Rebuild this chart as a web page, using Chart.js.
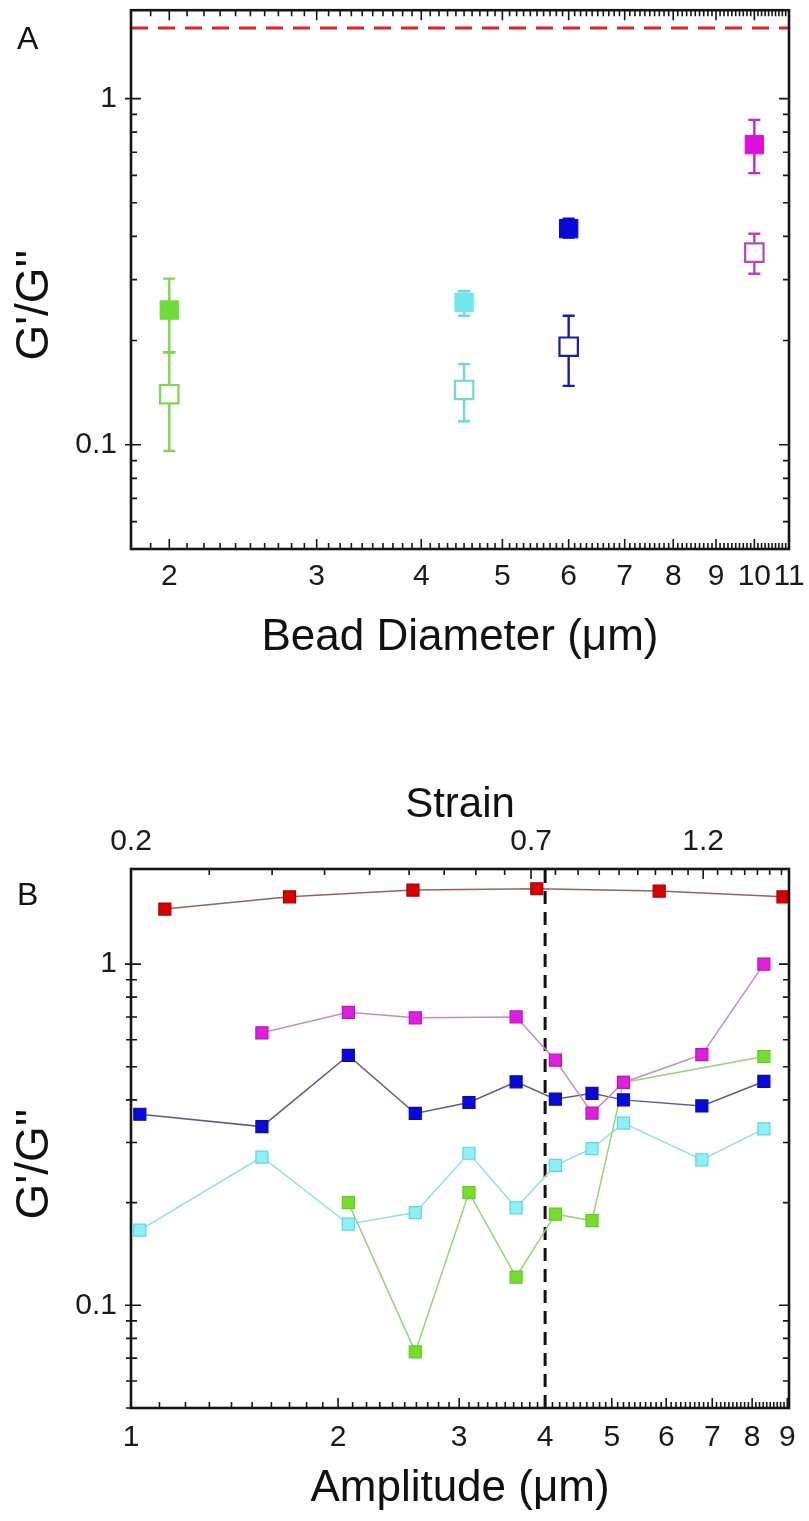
<!DOCTYPE html>
<html>
<head>
<meta charset="utf-8">
<script src="https://cdn.jsdelivr.net/npm/chart.js@4.4.1/dist/chart.umd.min.js"></script>
<style>
  html, body { margin: 0; padding: 0; background: #ffffff; }
  body { width: 809px; height: 1521px; position: relative; overflow: hidden; font-family: 'Liberation Sans', Arial, Helvetica, sans-serif; }
  .wrap { position: absolute; left: 0; }
  #wrapA { top: -5px; width: 809px; height: 705px; }
  #wrapB { top: 780px; width: 809px; height: 741px; }
  .panel { position: absolute; left: 17px; font-size: 32px; line-height: 32px; color: #111; z-index: 2; }
</style>
</head>
<body>
<div class="wrap" id="wrapA"><canvas id="chartA" width="809" height="705"></canvas></div>
<div class="wrap" id="wrapB"><canvas id="chartB" width="809" height="741"></canvas></div>
<div class="panel" style="top:22px;">A</div>
<div class="panel" style="top:878px;">B</div>
<script>
// ================= Panel A data =================
const beadDiameters = [2, 4.5, 6, 10];
const ratioSolid    = [0.245, 0.258, 0.421, 0.736];
const solidErrLow   = [0.185, 0.236, 0.397, 0.609];
const solidErrHigh  = [0.302, 0.278, 0.450, 0.868];
const ratioOpen     = [0.140, 0.144, 0.192, 0.359];
const openErrLow    = [0.096, 0.117, 0.148, 0.312];
const openErrHigh   = [0.185, 0.171, 0.236, 0.407];
const referenceRatio = 1.6;
const beadTickValues = [2, 3, 4, 5, 6, 7, 8, 9, 10, 11];
const beadTickLabels = ['2', '3', '4', '5', '6', '7', '8', '9', '10', '11'];
const ratioTickValues = [0.1, 1];
const ratioTickLabels = ['0.1', '1'];

// ================= Panel B data =================
const ampRed     = [1.12, 1.70, 2.57, 3.89, 5.86, 8.87];
const ratioRed   = [1.45, 1.575, 1.648, 1.663, 1.637, 1.575];
const ampMagenta   = [1.55, 2.07, 2.59, 3.63, 4.14, 4.68, 5.20, 6.76, 8.32];
const ratioMagenta = [0.629, 0.722, 0.696, 0.700, 0.523, 0.366, 0.450, 0.543, 1.0];
const ampBlue    = [1.03, 1.55, 2.07, 2.59, 3.10, 3.63, 4.14, 4.68, 5.20, 6.76, 8.32];
const ratioBlue  = [0.363, 0.334, 0.540, 0.365, 0.393, 0.452, 0.402, 0.418, 0.400, 0.384, 0.453];
const ampCyan    = [1.03, 1.55, 2.07, 2.59, 3.10, 3.63, 4.14, 4.68, 5.20, 6.76, 8.32];
const ratioCyan  = [0.166, 0.272, 0.173, 0.187, 0.279, 0.193, 0.257, 0.288, 0.342, 0.267, 0.329];
const ampGreen   = [2.07, 2.59, 3.10, 3.63, 4.14, 4.68, 5.20, 8.32];
const ratioGreen = [0.200, 0.073, 0.214, 0.121, 0.185, 0.177, 0.450, 0.536];
const criticalAmplitude = 4.0;
const ampTickValues = [1, 2, 3, 4, 5, 6, 7, 8, 9];
const ampTickLabels = ['1', '2', '3', '4', '5', '6', '7', '8', '9'];
const strainTickValues = [0.2, 0.7, 1.2];
const strainTickLabels = ['0.2', '0.7', '1.2'];

// ================= helpers =================
Chart.defaults.font.family = "'Liberation Sans', Arial, Helvetica, sans-serif";
Chart.defaults.color = '#1a1a1a';

function labelFor(values, labels, v) {
  const i = values.findIndex(t => Math.abs(t - v) < 1e-9);
  return i >= 0 ? labels[i] : '';
}
function pts(xs, ys) { return xs.map((x, i) => ({ x: x, y: ys[i] })); }
function stepList(from, to, step, skip) {
  const out = [];
  for (let k = 0; ; k++) {
    const v = +(from + k * step).toFixed(6);
    if (v > to + 1e-9) break;
    if (!skip.some(s => Math.abs(s - v) < 1e-6)) out.push(v);
  }
  return out;
}
function decadeMinors(lo, hi, majors) {
  const out = [];
  for (let d = -3; d <= 2; d++) {
    for (let m = 1; m <= 9; m++) {
      const v = +(m * Math.pow(10, d)).toFixed(8);
      if (v >= lo && v <= hi && !majors.some(s => Math.abs(s - v) < 1e-9)) out.push(v);
    }
  }
  return out;
}
function fixSize(prop, size) {
  return s => { s[prop] = size; s.paddingTop = 0; s.paddingBottom = 0; s.paddingLeft = 0; s.paddingRight = 0; };
}

// ---- plugin: frame box and inward ticks (positions from the chart's scales) ----
const frameTicks = {
  id: 'frameTicks',
  afterDatasetsDraw(chart, args, o) {
    if (!o || !o.enabled) return;
    const ctx = chart.ctx, a = chart.chartArea;
    const xb = chart.scales[o.bottomScale], xt = chart.scales[o.topScale], ys = chart.scales.y;
    const inRange = (s, v) => v >= s.min * 0.9999 && v <= s.max * 1.0001;
    ctx.save();
    ctx.strokeStyle = '#151515';
    ctx.lineWidth = 1.6;
    ctx.beginPath();
    const seg = (x1, y1, x2, y2) => { ctx.moveTo(x1, y1); ctx.lineTo(x2, y2); };
    const doX = (s, vals, len, edge, dir) => vals.forEach(v => {
      if (!inRange(s, v)) return;
      const p = s.getPixelForValue(v);
      seg(p, edge, p, edge + dir * len);
    });
    doX(xb, o.bottomMajor, o.majorLen, a.bottom, -1);
    doX(xb, o.bottomMinor, o.minorLen, a.bottom, -1);
    doX(xt, o.topMajor, o.majorLen, a.top, 1);
    doX(xt, o.topMinor, o.minorLen, a.top, 1);
    const doY = (vals, len, out) => vals.forEach(v => {
      if (!inRange(ys, v)) return;
      const p = ys.getPixelForValue(v);
      seg(a.left - out, p, a.left + len, p);
      seg(a.right, p, a.right - len, p);
    });
    doY(o.leftMajor, o.majorLen, o.majorOut);
    doY(o.leftMinor, o.minorLen, o.minorOut);
    ctx.stroke();
    ctx.lineWidth = 2.6;
    ctx.strokeRect(a.left, a.top, a.right - a.left, a.bottom - a.top);
    ctx.restore();
  }
};

// ---- plugin: error bars for panel A (positions from the chart's scales) ----
const errorBars = {
  id: 'errorBars',
  beforeDatasetsDraw(chart, args, o) {
    if (!o || !o.groups) return;
    const ctx = chart.ctx, xs = chart.scales.x, ys = chart.scales.y;
    ctx.save();
    ctx.lineWidth = o.lineWidth;
    o.groups.forEach(g => {
      g.x.forEach((xv, i) => {
        const px = xs.getPixelForValue(xv);
        const pLo = ys.getPixelForValue(g.lo[i]);
        const pHi = ys.getPixelForValue(g.hi[i]);
        ctx.strokeStyle = g.colors[i];
        ctx.beginPath();
        ctx.moveTo(px, pLo); ctx.lineTo(px, pHi);
        ctx.moveTo(px - o.cap, pLo); ctx.lineTo(px + o.cap, pLo);
        ctx.moveTo(px - o.cap, pHi); ctx.lineTo(px + o.cap, pHi);
        ctx.stroke();
      });
    });
    ctx.restore();
  }
};

// ================= Panel A chart =================
const solidColors = ['#70dc3c', '#72e6ea', '#0808d8', '#dc10dc'];
const openColors  = ['#7ad84c', '#6fd8d8', '#1c1ca6', '#b246c4'];
const errColorsSolid = ['#7ad84c', '#6fd8d8', '#0808d8', '#cc22cc'];
const errColorsOpen  = ['#7ad84c', '#6fd8d8', '#1c1ca6', '#b246c4'];

new Chart(document.getElementById('chartA'), {
  type: 'scatter',
  data: {
    datasets: [
      {
        type: 'line',
        data: [{ x: 1.8, y: referenceRatio }, { x: 11, y: referenceRatio }],
        borderColor: '#e02222', borderWidth: 3, borderDash: [17, 10],
        pointRadius: 0, fill: false, order: 5
      },
      {
        data: pts(beadDiameters, ratioOpen),
        pointStyle: 'rect', pointRadius: 13,
        pointBackgroundColor: '#ffffff', pointBorderColor: openColors, pointBorderWidth: 2.2,
        order: 3
      },
      {
        data: pts(beadDiameters, ratioSolid),
        pointStyle: 'rect', pointRadius: 13,
        pointBackgroundColor: solidColors, pointBorderColor: solidColors, pointBorderWidth: 1,
        order: 2
      }
    ]
  },
  options: {
    responsive: false, animation: false,
    layout: { padding: { left: 0, right: 20, top: 4, bottom: 0 } },
    plugins: {
      legend: { display: false }, tooltip: { enabled: false },
      errorBars: {
        lineWidth: 2.4, cap: 6,
        groups: [
          { x: beadDiameters, lo: openErrLow, hi: openErrHigh, colors: errColorsOpen },
          { x: beadDiameters, lo: solidErrLow, hi: solidErrHigh, colors: errColorsSolid }
        ]
      },
      frameTicks: {
        enabled: true, bottomScale: 'x', topScale: 'x',
        bottomMajor: beadTickValues, bottomMinor: stepList(1.8, 11, 0.1, beadTickValues),
        topMajor: beadTickValues, topMinor: stepList(1.8, 11, 0.1, beadTickValues),
        leftMajor: ratioTickValues, leftMinor: decadeMinors(0.05, 1.8, ratioTickValues),
        majorLen: 10, minorLen: 6, majorOut: 6, minorOut: 0
      }
    },
    scales: {
      x: {
        type: 'logarithmic', position: 'bottom', min: 1.8, max: 11,
        grid: { display: false, drawTicks: false }, border: { display: false },
        afterBuildTicks: s => { s.ticks = beadTickValues.map(v => ({ value: v })); },
        afterFit: fixSize('height', 151),
        ticks: {
          autoSkip: false, maxRotation: 0, minRotation: 0, padding: 10, color: '#1a1a1a',
          font: { size: 30 },
          callback: v => labelFor(beadTickValues, beadTickLabels, v)
        },
        title: { display: true, text: 'Bead Diameter (μm)', color: '#111', font: { size: 44 }, padding: { top: 0, bottom: 36 } }
      },
      y: {
        type: 'logarithmic', position: 'left', min: 0.05, max: 1.8,
        grid: { display: false, drawTicks: false }, border: { display: false },
        afterBuildTicks: s => { s.ticks = ratioTickValues.map(v => ({ value: v })); },
        afterFit: fixSize('width', 131),
        ticks: {
          autoSkip: false, padding: 14, color: '#1a1a1a', font: { size: 30 },
          callback: v => labelFor(ratioTickValues, ratioTickLabels, v)
        },
        title: { display: true, text: "G'/G''    ", color: '#111', font: { size: 46 }, padding: { top: 8, bottom: 0 } }
      }
    }
  },
  plugins: [errorBars, frameTicks]
});

// ================= Panel B chart =================
function series(xs, ys, marker, markerBorder, lineColor, order) {
  return {
    data: pts(xs, ys), showLine: true,
    borderColor: lineColor, borderWidth: 1.5,
    pointStyle: 'rect', pointRadius: 8.5,
    pointBackgroundColor: marker, pointBorderColor: markerBorder, pointBorderWidth: 1.2,
    order: order
  };
}

new Chart(document.getElementById('chartB'), {
  type: 'scatter',
  data: {
    datasets: [
      {
        type: 'line',
        data: [{ x: criticalAmplitude, y: 0.05 }, { x: criticalAmplitude, y: 1.9 }],
        borderColor: '#111111', borderWidth: 3, borderDash: [13, 8],
        pointRadius: 0, fill: false, order: 10
      },
      series(ampCyan, ratioCyan, '#8ef0f4', '#5ad8e0', '#92e2e2', 6),
      series(ampGreen, ratioGreen, '#78dc2a', '#66c826', '#96d47a', 5),
      series(ampBlue, ratioBlue, '#0a0ad8', '#0a0aa8', '#5c5c8c', 4),
      series(ampMagenta, ratioMagenta, '#dc20dc', '#c010c0', '#c48ad0', 3),
      series(ampRed, ratioRed, '#d80000', '#a80000', '#9a6060', 2)
    ]
  },
  options: {
    responsive: false, animation: false,
    layout: { padding: { left: 0, right: 20, top: 0, bottom: 0 } },
    plugins: {
      legend: { display: false }, tooltip: { enabled: false },
      frameTicks: {
        enabled: true, bottomScale: 'x', topScale: 'x2',
        bottomMajor: ampTickValues, bottomMinor: stepList(1, 9.05, 0.1, ampTickValues),
        topMajor: strainTickValues, topMinor: stepList(0.2, 1.57, 0.5 / 9, strainTickValues),
        leftMajor: ratioTickValues, leftMinor: decadeMinors(0.05, 1.9, ratioTickValues),
        majorLen: 10, minorLen: 6, majorOut: 6, minorOut: 5
      }
    },
    scales: {
      x: {
        type: 'logarithmic', position: 'bottom', min: 1, max: 9.05,
        grid: { display: false, drawTicks: false }, border: { display: false },
        afterBuildTicks: s => { s.ticks = ampTickValues.map(v => ({ value: v })); },
        afterFit: fixSize('height', 113),
        ticks: {
          autoSkip: false, maxRotation: 0, minRotation: 0, padding: 12, color: '#1a1a1a',
          font: { size: 30 },
          callback: v => labelFor(ampTickValues, ampTickLabels, v)
        },
        title: { display: true, text: 'Amplitude (μm)', color: '#111', font: { size: 44 }, padding: { top: 0, bottom: 6 } }
      },
      x2: {
        type: 'logarithmic', position: 'top', axis: 'x', min: 0.2, max: 1.57,
        grid: { display: false, drawTicks: false }, border: { display: false },
        afterBuildTicks: s => { s.ticks = strainTickValues.map(v => ({ value: v })); },
        afterFit: fixSize('height', 89),
        ticks: {
          autoSkip: false, maxRotation: 0, minRotation: 0, padding: 9, color: '#1a1a1a',
          font: { size: 30 },
          callback: v => labelFor(strainTickValues, strainTickLabels, v)
        },
        title: { display: true, text: 'Strain', color: '#111', font: { size: 42 }, padding: { top: 0, bottom: 0 } }
      },
      y: {
        type: 'logarithmic', position: 'left', min: 0.05, max: 1.9,
        grid: { display: false, drawTicks: false }, border: { display: false },
        afterBuildTicks: s => { s.ticks = ratioTickValues.map(v => ({ value: v })); },
        afterFit: fixSize('width', 131),
        ticks: {
          autoSkip: false, padding: 14, color: '#1a1a1a', font: { size: 30 },
          callback: v => labelFor(ratioTickValues, ratioTickLabels, v)
        },
        title: { display: true, text: "G'/G''    ", color: '#111', font: { size: 46 }, padding: { top: 8, bottom: 0 } }
      }
    }
  },
  plugins: [frameTicks]
});
</script>
</body>
</html>
